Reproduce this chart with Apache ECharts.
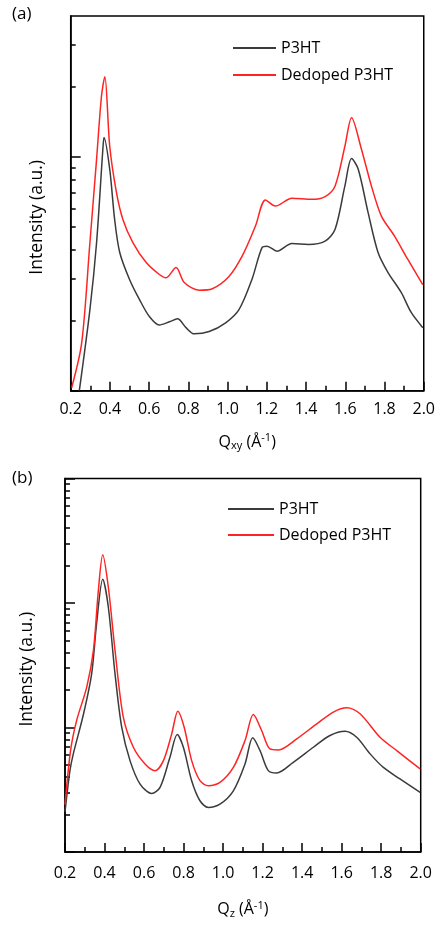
<!DOCTYPE html>
<html><head><meta charset="utf-8">
<script src="https://cdn.jsdelivr.net/npm/echarts@6/dist/echarts.min.js"></script>
<style>html,body{margin:0;padding:0;background:#fff}#c{width:438px;height:925px}</style>
</head><body><div id="c"></div>
<script>
// ---- Panel (a): in-plane (Qxy) ----
const qxyP3HT = [0.244,0.298,0.332,0.364,0.370,0.399,0.424,0.450,0.500,0.551,0.602,0.652,0.703,0.745,0.788,0.830,0.906,0.990,1.058,1.124,1.176,1.201,1.252,1.328,1.412,1.497,1.548,1.598,1.632,1.666,1.716,1.767,1.818,1.885,1.936,1.995];
const ixyP3HT = [1.0,2.22,4.30,10.8,12.1,8.85,5.40,3.90,2.99,2.45,2.07,1.91,1.97,2.03,1.86,1.75,1.79,1.95,2.22,2.99,4.10,4.15,3.95,4.26,4.22,4.36,4.90,7.51,9.84,8.85,5.79,3.90,3.20,2.63,2.16,1.86];
const qxyDed = [0.205,0.256,0.298,0.332,0.357,0.374,0.399,0.433,0.466,0.517,0.585,0.652,0.686,0.737,0.779,0.855,0.922,1.007,1.074,1.142,1.193,1.244,1.328,1.429,1.497,1.548,1.598,1.632,1.682,1.733,1.784,1.851,1.919,1.995];
const ixyDed = [1.03,1.60,4.30,9.78,18.2,22.0,11.1,7.06,5.40,4.30,3.53,3.14,3.04,3.36,2.90,2.69,2.73,3.08,3.76,5.06,6.54,6.16,6.65,6.58,6.76,7.51,11.1,14.7,10.8,7.51,5.58,4.58,3.64,2.84];

// ---- Panel (b): out-of-plane (Qz) ----
const qzP3HT = [0.2,0.225,0.242,0.294,0.335,0.360,0.391,0.419,0.453,0.487,0.529,0.580,0.639,0.681,0.731,0.768,0.799,0.841,0.883,0.925,0.984,1.052,1.111,1.150,1.187,1.229,1.271,1.355,1.457,1.541,1.617,1.676,1.744,1.811,1.895,1.997];
const izP3HT = [2.1,4.5,6.14,12.9,27.1,68.6,155,93.3,27.1,10.05,5.42,3.51,2.95,3.30,5.76,8.78,6.94,3.74,2.58,2.28,2.42,3.10,5.10,8.26,6.52,4.50,4.31,5.25,6.94,8.62,9.33,8.35,6.14,4.78,3.86,3.01];
const qzDed = [0.2,0.228,0.259,0.310,0.344,0.369,0.391,0.419,0.453,0.495,0.546,0.605,0.656,0.698,0.740,0.771,0.803,0.841,0.883,0.925,0.984,1.052,1.111,1.153,1.195,1.237,1.280,1.373,1.474,1.558,1.626,1.693,1.794,1.879,1.997];
const izDed = [2.4,6.5,11.4,21.1,41.8,127,244,135,41.8,12.1,6.94,5.10,4.50,5.42,8.89,13.5,10.05,5.42,3.74,3.41,3.62,4.78,7.86,12.7,9.46,6.73,6.61,8.11,10.7,13.3,14.4,12.9,8.35,6.52,4.65];

// ---- axis ticks ----
const xTickLabels = ['0.2','0.4','0.6','0.8','1.0','1.2','1.4','1.6','1.8','2.0'];
const yMajorA = [1, 10];
const yMinorA = [2,3,4,5,6,7,8,9,20,30];
const yMajorB = [1, 10, 100, 1000];
const yMinorB = [2,3,4,5,6,7,8,9,20,30,40,50,60,70,80,90,200,300,400,500,600,700,800,900];
const seriesNames = ['P3HT', 'Dedoped P3HT'];

const FONT = 'Open Sans';
const zip = (a, b) => a.map((x, i) => [x, b[i]]);
const black = '#3b3b3b', red = '#ff2424';

function xAxisCfg(grid, name, nameGap, margin) {
  return {
    type: 'value', gridIndex: grid, min: 0.2, max: 2.0, interval: 0.2,
    axisLine: { show: true, lineStyle: { color: '#000', width: 1.5 } },
    axisTick: { show: true, inside: true, length: 9, lineStyle: { color: '#000', width: 1.5 } },
    minorTick: { show: true, splitNumber: 2, length: 5, lineStyle: { color: '#000', width: 1.5 } },
    axisLabel: { fontSize: 16, color: '#000', fontFamily: FONT, margin: margin,
      formatter: v => xTickLabels[Math.round((v - 0.2) / 0.2)] },
    splitLine: { show: false },
    name: name, nameLocation: 'middle', nameGap: nameGap,
    nameTextStyle: { fontSize: 16, color: '#000', fontFamily: FONT,
      rich: {
        sub: { fontSize: 11, fontFamily: FONT, color: '#000', verticalAlign: 'bottom', padding: [8, 0, 0, 0] },
        sup: { fontSize: 11, fontFamily: FONT, color: '#000', verticalAlign: 'top', padding: [0, 0, 8, 0] }
      } }
  };
}
function yAxisMain(grid, max, majors, nameGap, shift) {
  return {
    type: 'log', logBase: 10, gridIndex: grid, min: 1, max: max, position: 'left',
    axisLine: { show: true, lineStyle: { color: '#000', width: 1.5 } },
    axisTick: { show: true, inside: true, length: 10, customValues: majors, lineStyle: { color: '#000', width: 1.5 } },
    axisLabel: { show: false }, splitLine: { show: false }, minorTick: { show: false },
    name: 'Intensity (a.u.)', nameLocation: 'middle', nameGap: nameGap,
    nameTextStyle: { fontSize: 17.5, color: '#000', fontFamily: FONT, padding: [0, shift, 0, 0] }
  };
}
function yAxisMinor(grid, max, minors) {
  return {
    type: 'log', logBase: 10, gridIndex: grid, min: 1, max: max, position: 'left', offset: 0,
    axisLine: { show: false },
    axisTick: { show: true, inside: true, length: 5, customValues: minors, lineStyle: { color: '#000', width: 1.5 } },
    axisLabel: { show: false }, splitLine: { show: false }, minorTick: { show: false }
  };
}
function lineSeries(name, xi, yi, data, color) {
  return { type: 'line', name: name, xAxisIndex: xi, yAxisIndex: yi, data: data,
    symbol: 'none', smooth: 0.3, clip: true,
    lineStyle: { color: color, width: 1.5 }, itemStyle: { color: color } };
}
function legendCfg(left, top, w, gap) {
  return { orient: 'vertical', left: left, top: top, itemWidth: w, itemHeight: 14, itemGap: gap,
    padding: 0, data: seriesNames,
    itemStyle: { opacity: 0 },
    textStyle: { fontSize: 16, color: '#000', fontFamily: FONT } };
}

const chart = echarts.init(document.getElementById('c'), null, { renderer: 'canvas' });
chart.setOption({
  animation: false,
  backgroundColor: '#fff',
  textStyle: { fontFamily: FONT },
  title: [
    { text: '(a)', left: 12, top: 6, padding: 0, textStyle: { fontSize: 17, fontWeight: 'normal', color: '#000', fontFamily: FONT } },
    { text: '(b)', left: 12, top: 470, padding: 0, textStyle: { fontSize: 17, fontWeight: 'normal', color: '#000', fontFamily: FONT } }
  ],
  legend: [legendCfg(232, 40, 43, 11), legendCfg(227, 501, 46, 10)],
  grid: [
    { left: 70.7, top: 16, right: 12, bottom: 534.3, show: true, borderColor: '#000', borderWidth: 1.5, backgroundColor: 'transparent' },
    { left: 65, top: 478.5, right: 17.3, bottom: 73, show: true, borderColor: '#000', borderWidth: 1.5, backgroundColor: 'transparent' }
  ],
  xAxis: [
    xAxisCfg(0, 'Q{sub|xy} (Å{sup|-1})', 42, 11),
    xAxisCfg(1, 'Q{sub|z} (Å{sup|-1})', 48, 13)
  ],
  yAxis: [
    yAxisMain(0, 40, yMajorA, 25, 28),
    yAxisMinor(0, 40, yMinorA),
    yAxisMain(1, 1000, yMajorB, 28.5, 8),
    yAxisMinor(1, 1000, yMinorB)
  ],
  series: [
    lineSeries(seriesNames[0], 0, 0, zip(qxyP3HT, ixyP3HT), black),
    lineSeries(seriesNames[1], 0, 0, zip(qxyDed, ixyDed), red),
    lineSeries(seriesNames[0], 1, 2, zip(qzP3HT, izP3HT), black),
    lineSeries(seriesNames[1], 1, 2, zip(qzDed, izDed), red)
  ]
});
</script>
</body></html>
